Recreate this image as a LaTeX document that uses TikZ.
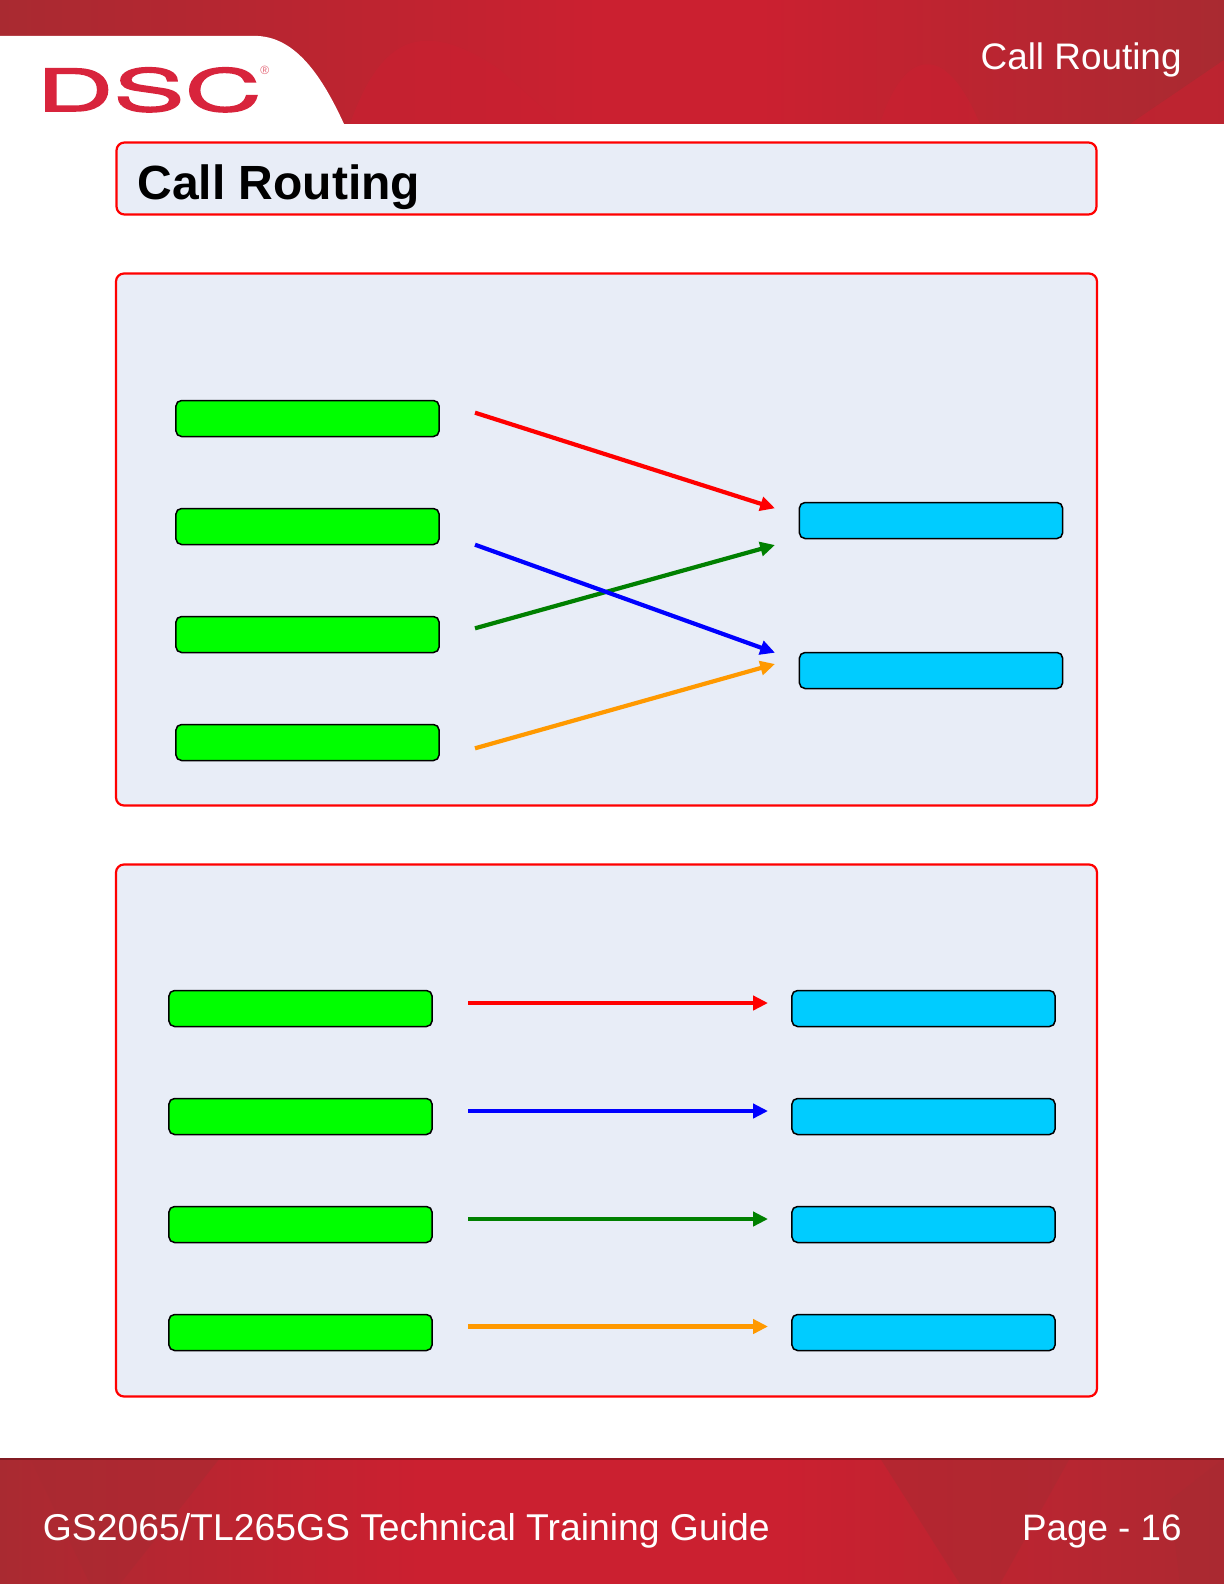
\documentclass[tikz,border=0pt]{standalone}
\usepackage{fontspec}
\setmainfont{Liberation Sans}
\newfontfamily\logofont[FakeStretch=1.84,FakeBold=2.6]{TeX Gyre Heros}
\usetikzlibrary{arrows.meta}
\definecolor{barred}{HTML}{CB2030}
\definecolor{bardark}{HTML}{A92A31}
\definecolor{panelfill}{HTML}{E8EDF7}
\definecolor{boxgreen}{HTML}{00FF00}
\definecolor{boxblue}{HTML}{00CCFF}
\definecolor{arrowgreen}{HTML}{008000}
\definecolor{arroworange}{HTML}{FF9900}
\definecolor{logored}{HTML}{D8243C}
\tikzset{
  panel/.style={draw=red,line width=1.1pt,fill=panelfill,rounded corners=4pt,inner sep=0pt,anchor=center},
  greenbox/.style={draw=black,line width=.75pt,fill=boxgreen,rounded corners=2.8pt,minimum width=131.6pt,minimum height=18pt,inner sep=0pt},
  bluebox/.style={draw=black,line width=.75pt,fill=boxblue,rounded corners=2.8pt,minimum width=131.6pt,minimum height=18pt,inner sep=0pt},
  link/.style={line width=2.1pt,-{Triangle[length=7.4pt,width=7pt]}},
  whitetext/.style={text=white,inner sep=0pt},
}
\begin{document}
\begin{tikzpicture}[x=.5pt,y=-.5pt]
\useasboundingbox (0,0) rectangle (1224,1584);
\fill[white] (0,0) rectangle (1224,1584);
% header band
\fill[barred] (0,0) rectangle (1224,124);
\fill[left color=bardark,right color=barred] (0,0) rectangle (600,124);
\fill[left color=barred,right color=bardark] (760,0) rectangle (1224,124);
\fill[barred,opacity=.55] (1130,124) -- (1224,124) -- (1224,60) -- cycle;
\fill[barred,opacity=.5] (880,124) .. controls (900,60) and (940,30) .. (980,124) -- cycle;
\fill[barred,opacity=.5] (350,124) .. controls (380,40) and (420,15) .. (500,70) -- (560,124) -- cycle;
\fill[white] (0,36) -- (258,36) .. controls (296,38) and (322,76) .. (344,124) -- (0,124) -- cycle;
% footer band
\fill[barred] (0,1458) rectangle (1224,1584);
\fill[left color=bardark,right color=barred] (0,1458) rectangle (420,1584);
\fill[left color=barred,right color=bardark!90!barred] (780,1458) rectangle (1224,1584);
\fill[bardark,opacity=.6] (30,1458) -- (220,1458) -- (120,1584) -- (90,1584) -- cycle;
\fill[bardark,opacity=.55] (880,1458) -- (1070,1458) -- (1000,1584) -- (960,1584) -- cycle;
\fill[bardark,opacity=.55] (1224,1458) -- (1224,1584) -- (1180,1584) -- (1170,1500) -- cycle;
\fill[black!55!barred,opacity=.5] (0,1458) rectangle (1224,1460);
% logo
\node[anchor=base west,inner sep=0pt,text=logored,font=\logofont\fontsize{29}{29}\selectfont] (logo) at (36,111) {DSC};
\node[anchor=base west,inner sep=0pt,text=logored!70,font=\fontsize{6}{6}\selectfont] (reg) at (260,75) {®};
% header and title texts
\node[whitetext,anchor=base east,font=\fontsize{18.45}{19}\selectfont] (htitle) at (1182,70) {Call Routing};
\node[panel,minimum width=490pt,minimum height=36pt] (tbox) at (606.5,178.5) {};
\node[anchor=base west,inner sep=0pt,font=\bfseries\fontsize{24}{24}\selectfont] (ttext) at (137,199.5) {Call Routing};
% panels
\node[panel,minimum width=490.5pt,minimum height=266pt] (p1) at (606.5,539.5) {};
\node[panel,minimum width=490.5pt,minimum height=266pt] (p2) at (606.5,1130.5) {};
% upper boxes
\node[greenbox] (ga) at (307.5,418.5) {};
\node[greenbox] (gb) at (307.5,526.5) {};
\node[greenbox] (gc) at (307.5,634.5) {};
\node[greenbox] (gd) at (307.5,742.5) {};
\node[bluebox] (ba) at (931,520.5) {};
\node[bluebox] (bb) at (931,670.5) {};
\coordinate (as) at (475,412.7);
\coordinate (ae) at (775,508.3);
\coordinate (bs) at (475,628.3);
\coordinate (be) at (775,545);
\coordinate (cs) at (475,544.7);
\coordinate (ce) at (775,652.7);
\coordinate (ds) at (475,748.3);
\coordinate (de) at (775,664);
\draw[link,red] (as) -- (ae);
\draw[link,arrowgreen] (bs) -- (be);
\draw[link,blue] (cs) -- (ce);
\draw[link,arroworange] (ds) -- (de);
% lower boxes
\node[greenbox] (gp) at (300.5,1008.5) {};
\node[greenbox] (gq) at (300.5,1116.5) {};
\node[greenbox] (gr) at (300.5,1224.5) {};
\node[greenbox] (gs) at (300.5,1332.5) {};
\node[bluebox] (bp) at (923.5,1008.5) {};
\node[bluebox] (bq) at (923.5,1116.5) {};
\node[bluebox] (br) at (923.5,1224.5) {};
\node[bluebox] (bs2) at (923.5,1332.5) {};
\coordinate (ps) at (468,1003);
\coordinate (pe) at (768,1003);
\coordinate (qs) at (468,1111);
\coordinate (qe) at (768,1111);
\coordinate (rs) at (468,1219);
\coordinate (re) at (768,1219);
\coordinate (ss) at (468,1326.5);
\coordinate (se) at (768,1326.5);
\draw[link,red] (ps) -- (pe);
\draw[link,blue] (qs) -- (qe);
\draw[link,arrowgreen] (rs) -- (re);
\draw[link,arroworange] (ss) -- (se);
% footer texts
\node[whitetext,anchor=base west,font=\fontsize{18.66}{19}\selectfont] (fl) at (42.5,1540) {GS2065/TL265GS Technical Training Guide};
\node[whitetext,anchor=base east,font=\fontsize{18.4}{19}\selectfont] (fr) at (1182,1540) {Page - 16};
\end{tikzpicture}
\end{document}
